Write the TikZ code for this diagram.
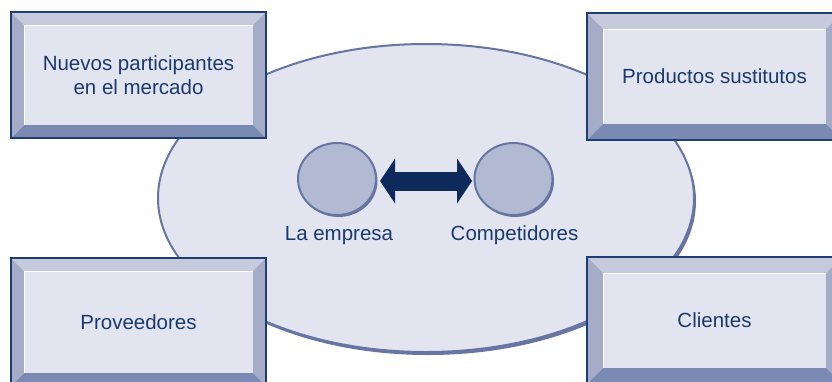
\documentclass[tikz,border=0pt]{standalone}
\usepackage{fontspec}
\setmainfont{Liberation Sans}
\usetikzlibrary{shapes.geometric,arrows.meta,shadows,positioning}

\definecolor{facecol}{HTML}{E2E5EF}
\definecolor{bevtopcol}{HTML}{C5CADD}
\definecolor{bevsidecol}{HTML}{A4ACC8}
\definecolor{bevbotcol}{HTML}{7A8AB3}
\definecolor{rimcol}{HTML}{1E3D72}
\definecolor{edgecol}{HTML}{6675A1}
\definecolor{firmcol}{HTML}{B2BAD3}
\definecolor{inkcol}{HTML}{1B3A6C}
\definecolor{navycol}{HTML}{0E2A5A}

% beveled box: name, x0, y0, x1, y1, bevel, text
\newcommand{\bevbox}[7]{%
\fill[bevtop] (#2,#3) -- (#4,#3) -- (#4-#6,#3+#6) -- (#2+#6,#3+#6) -- cycle;
\fill[bevside] (#2,#3) -- (#2+#6,#3+#6) -- (#2+#6,#5-#6) -- (#2,#5) -- cycle;
\fill[bevside] (#4,#3) -- (#4-#6,#3+#6) -- (#4-#6,#5-#6) -- (#4,#5) -- cycle;
\fill[bevbot] (#2,#5) -- (#2+#6,#5-#6) -- (#4-#6,#5-#6) -- (#4,#5) -- cycle;
\fill[boxface] (#2+#6,#3+#6) rectangle (#4-#6,#5-#6);
\draw[white, line width=0.8] (#2+#6,#5-#6) -- (#2+#6,#3+#6) -- (#4-#6,#3+#6);
\draw[boxrim] (#2,#3) rectangle (#4,#5);
\node[boxtext] (#1) at ({(#2+#4)/2},{(#3+#5)/2}) {#7};
}

\begin{document}
\begin{tikzpicture}
[
x=1pt, y=-1pt,
bevtop/.style={fill=bevtopcol},
bevside/.style={fill=bevsidecol},
bevbot/.style={fill=bevbotcol},
boxface/.style={fill=facecol},
boxrim/.style={draw=rimcol, line width=1.3},
boxtext/.style={align=center, text=inkcol, font=\fontsize{20.5}{23.5}\selectfont},
arena/.style={fill=facecol, draw=edgecol, line width=2,
  drop shadow={shadow xshift=2pt, shadow yshift=-3pt, fill=edgecol, opacity=1}},
firm/.style={ellipse, fill=firmcol, draw=edgecol, line width=2, inner sep=0pt,
  minimum width=78pt, minimum height=72pt,
  drop shadow={shadow xshift=1.5pt, shadow yshift=-2pt, fill=edgecol, opacity=1}},
firmlabel/.style={anchor=base, text=inkcol, font=\fontsize{20.5}{23.5}\selectfont},
rivalry/.style={draw=navycol, line width=19pt,
  {Triangle[width=45pt, length=15pt, line width=0pt]}-{Triangle[width=45pt, length=15pt, line width=0pt]}},
]
\useasboundingbox (0,0) rectangle (832,381);
\clip (0,0) rectangle (832,381);

%draw the market
\path[arena] (426,198) ellipse [x radius=268, y radius=154];

%draw the firms
\node[firm] (empresa) at (337,179) {};
\node[firm] (competidores) at (513.5,179) {};
\node[firmlabel] (lblempresa) at (339,240) {La empresa};
\node[firmlabel] (lblcompetidores) at (514.5,240) {Competidores};
\draw[rivalry, shorten <=3pt, shorten >=1.5pt] ([yshift=-2pt]empresa.east) -- ([yshift=-2pt]competidores.west);

%draw the forces
\bevbox{entrantes}{11}{12}{266}{138}{13}{Nuevos participantes\\en el mercado}
\bevbox{sustitutos}{587}{13}{842}{140}{16}{Productos sustitutos}
\bevbox{proveedores}{11}{258}{266}{386}{13}{Proveedores}
\bevbox{clientes}{587}{257}{842}{384}{16}{Clientes}
\end{tikzpicture}
\end{document}
